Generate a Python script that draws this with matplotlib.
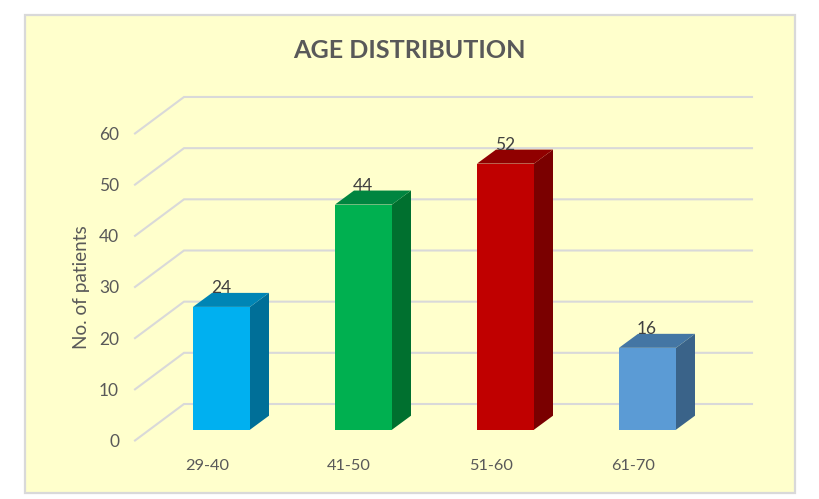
import matplotlib
matplotlib.use("Agg")
import matplotlib.pyplot as plt
from matplotlib.patches import Polygon, Rectangle

# Data
categories = ["29-40", "41-50", "51-60", "61-70"]
patients = [24, 44, 52, 16]
y_ticks = [0, 10, 20, 30, 40, 50, 60]
title = "AGE DISTRIBUTION"
y_label = "No. of patients"

# Styles
front_colors = ["#00B0F0", "#00B050", "#C00000", "#5B9BD5"]
side_colors = ["#006F98", "#00702F", "#7A0000", "#3A6389"]
top_colors = ["#0085B5", "#008540", "#900000", "#4476A4"]
bg = "#FFFFCC"
line = "#D9D9D9"

W, H = 819, 499
PX_X = 142.0      # pixels per category
PX_Y = 5.117      # pixels per value unit
X0, Y0 = 221.5, 429.7   # pixel location of first bar centre / value 0

plt.rcParams["font.family"] = ["Lato", "DejaVu Sans"]
fig = plt.figure(figsize=(W / 100, H / 100), dpi=100, facecolor="white")
fig.add_artist(Rectangle((25 / W, 1 - 493 / H), 770 / W, 478 / H, transform=fig.transFigure,
                         facecolor=bg, edgecolor=line, linewidth=1.6, zorder=-1))
ax = fig.add_axes([0, 0, 1, 1])
ax.set_xlim(-X0 / PX_X, (W - X0) / PX_X)
ax.set_ylim((Y0 - H) / PX_Y, Y0 / PX_Y)
ax.axis("off")

# data-unit helpers
dx = lambda p: p / PX_X
dy = lambda p: p / PX_Y
wall_l = (135 - X0) / PX_X
wall_m = (184 - X0) / PX_X
wall_r = (752 - X0) / PX_X
front_off = dy(Y0 - 440.5)
back_off = dy(Y0 - 404)

for v in y_ticks:
    ax.plot([wall_l, wall_m, wall_r], [v + front_off, v + back_off, v + back_off],
            color=line, lw=1.5, solid_joinstyle="miter", zorder=1)
    ax.text(wall_l - dx(16), v + front_off, str(v), ha="right", va="center_baseline",
            fontsize=12.5, color="#595959", zorder=5)

w = 57 / PX_X
ddx, ddy = dx(19), dy(14)
for i, (c, v) in enumerate(zip(categories, patients)):
    l, r = i - w / 2, i + w / 2
    ax.add_patch(Polygon([(r, 0), (r + ddx, ddy), (r + ddx, v + ddy), (r, v)],
                         facecolor=side_colors[i], edgecolor="none", zorder=2))
    ax.add_patch(Polygon([(l, v), (r, v), (r + ddx, v + ddy), (l + ddx, v + ddy)],
                         facecolor=top_colors[i], edgecolor="none", zorder=2))
    ax.bar(i, v, width=w, color=front_colors[i], zorder=3)
    ax.text(i - dx(0.5), v + dy(20), str(v), ha="center", va="center_baseline",
            fontsize=12.5, color="#404040", zorder=6)
    ax.text(i - dx(14.5), dy(Y0 - 465), c, ha="center", va="center_baseline",
            fontsize=11.8, color="#595959", zorder=5)

ax.text(dx(81.5 - X0), dy(Y0 - 287), y_label, rotation=90, ha="center", va="center",
        fontsize=13.7, color="#595959")
ax.text(dx(409.5 - X0), dy(Y0 - 48), title, ha="center", va="center_baseline",
        fontsize=18.1, fontweight="bold", color="#595959")

fig.savefig("out.png", dpi=100)
